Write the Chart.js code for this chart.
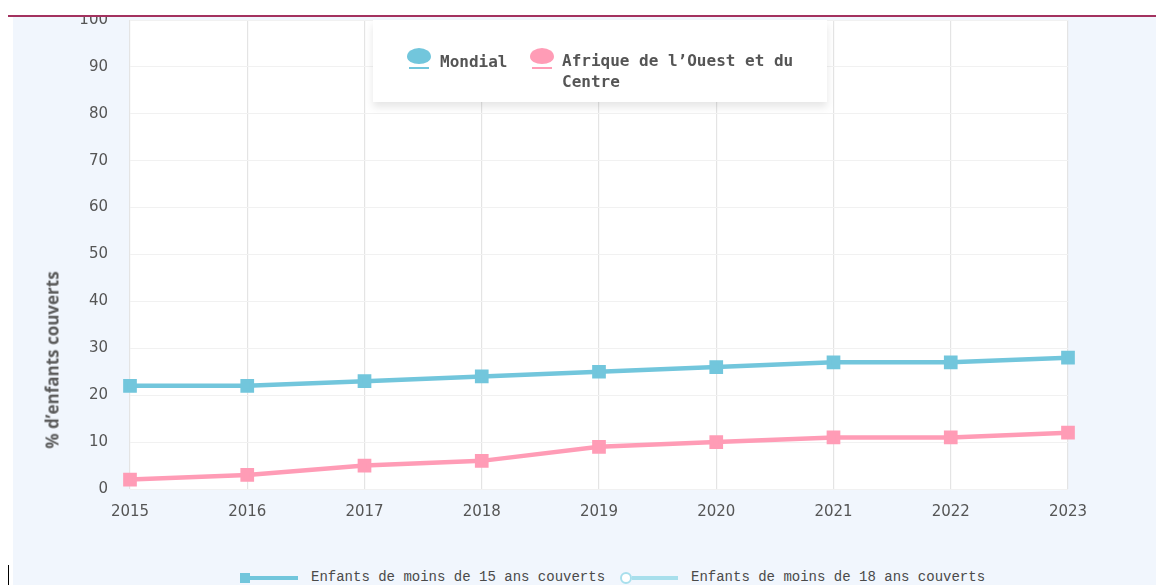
<!DOCTYPE html>
<html>
<head>
<meta charset="utf-8">
<script src="https://cdn.jsdelivr.net/npm/chart.js@4.4.1/dist/chart.umd.min.js"></script>
<style>
  html,body{margin:0;padding:0;background:#fff;width:1156px;height:585px;overflow:hidden;}
  #bg{position:absolute;left:13px;top:0;width:1143px;height:585px;background:#f1f6fd;}
  #wrap{position:absolute;left:0;top:-11px;width:1156px;height:540px;}
  #topbar{position:absolute;left:0;top:0;width:1156px;height:15px;background:#fff;z-index:5;}
  #topline{position:absolute;left:8px;top:15px;width:1148px;height:2px;background:#a3325f;z-index:6;}
  #ytitle{position:absolute;left:52px;top:360px;transform:translate(-50%,-50%) rotate(-90deg);
    font-family:"Open Sans",sans-serif;font-weight:700;font-size:17px;color:#5a5a5a;white-space:nowrap;}
  #legbox{position:absolute;left:373px;top:20px;width:454px;height:82px;background:#fff;
    box-shadow:0 5px 8px rgba(0,0,0,0.10);z-index:4;}
  .item{position:absolute;font-family:"DejaVu Sans Mono",monospace;font-weight:700;font-size:16px;color:#555;line-height:21px;}
  .pin{position:absolute;width:24px;height:16px;border-radius:50% 50% 50% 50% / 55% 55% 45% 45%;}
  .pinline{position:absolute;width:20px;height:2px;}
  .bl{position:absolute;top:569px;font-family:"Liberation Mono",monospace;font-size:14px;color:#4a4a4a;white-space:nowrap;}
  #cursor{position:absolute;left:8px;top:565px;width:1px;height:20px;background:#000;}
</style>
</head>
<body>
<div id="bg"></div>
<div id="wrap"><canvas id="c" width="1156" height="540"></canvas></div>
<div id="topbar"></div>
<div id="topline"></div>
<div id="ytitle">% d’enfants couverts</div>
<div id="legbox">
  <div class="pin" style="left:34px;top:28px;background:#72c6dc;"></div>
  <div class="pinline" style="left:36px;top:47px;background:#72c6dc;"></div>
  <div class="item" style="left:67px;top:31px;">Mondial</div>
  <div class="pin" style="left:157px;top:28px;background:#ff9cb6;"></div>
  <div class="pinline" style="left:159px;top:47px;background:#ff9cb6;"></div>
  <div class="item" style="left:189px;top:30px;width:250px;">Afrique de l’Ouest et du<br>Centre</div>
</div>
<div style="position:absolute;left:240px;top:573px;width:10px;height:10px;background:#72c6dc;"></div>
<div style="position:absolute;left:250px;top:576px;width:48px;height:4px;background:#72c6dc;"></div>
<div class="bl" style="left:311px;">Enfants de moins de 15 ans couverts</div>
<div style="position:absolute;left:620px;top:572px;width:8px;height:8px;border:2px solid #a8dfec;border-radius:50%;background:#fff;"></div>
<div style="position:absolute;left:632px;top:576px;width:46px;height:4px;background:#a8dfec;"></div>
<div class="bl" style="left:691px;">Enfants de moins de 18 ans couverts</div>
<div id="cursor"></div>
<script>
const years = ["2015","2016","2017","2018","2019","2020","2021","2022","2023"];
const mondial = [22, 22, 23, 24, 25, 26, 27, 27, 28];
const afriqueOuestCentre = [2, 3, 5, 6, 9, 10, 11, 11, 12];
const yTicks = [0,10,20,30,40,50,60,70,80,90,100];

const plotBg = {
  id:'plotBg',
  beforeDraw(chart){
    const {ctx, chartArea:a} = chart;
    ctx.save(); ctx.fillStyle='#ffffff';
    ctx.fillRect(a.left, a.top, a.right-a.left, a.bottom-a.top);
    ctx.restore();
  }
};

new Chart(document.getElementById('c'), {
  type:'line',
  data:{
    labels: years,
    datasets:[
      {label:'Mondial', data:mondial, borderColor:'#72c6dc', backgroundColor:'#72c6dc',
       borderWidth:4.5, pointStyle:'rect', pointRadius:6.5, pointHoverRadius:6.5, tension:0},
      {label:'Afrique de l’Ouest et du Centre', data:afriqueOuestCentre, borderColor:'#ff9cb6', backgroundColor:'#ff9cb6',
       borderWidth:4.5, pointStyle:'rect', pointRadius:6.5, pointHoverRadius:6.5, tension:0}
    ]
  },
  options:{
    responsive:false, animation:false,
    layout:{padding:{top:9, right:88, left:0, bottom:0}},
    plugins:{legend:{display:false}, tooltip:{enabled:false}},
    scales:{
      x:{
        offset:false,
        grid:{color:'#e4e4e4', lineWidth:1.2, drawTicks:false},
        border:{display:false},
        ticks:{padding:14, color:'#555', font:{family:'DejaVu Sans', size:15}},
        afterFit(s){ s.height = 40; }
      },
      y:{
        min:0, max:100,
        afterBuildTicks(s){ s.ticks = yTicks.map(v=>({value:v})); },
        grid:{color:'#f1f1f1', drawTicks:false},
        border:{display:false},
        ticks:{padding:22, color:'#555', font:{family:'DejaVu Sans', size:15}},
        afterFit(s){ s.width = 130; }
      }
    }
  },
  plugins:[plotBg]
});
</script>
</body>
</html>
